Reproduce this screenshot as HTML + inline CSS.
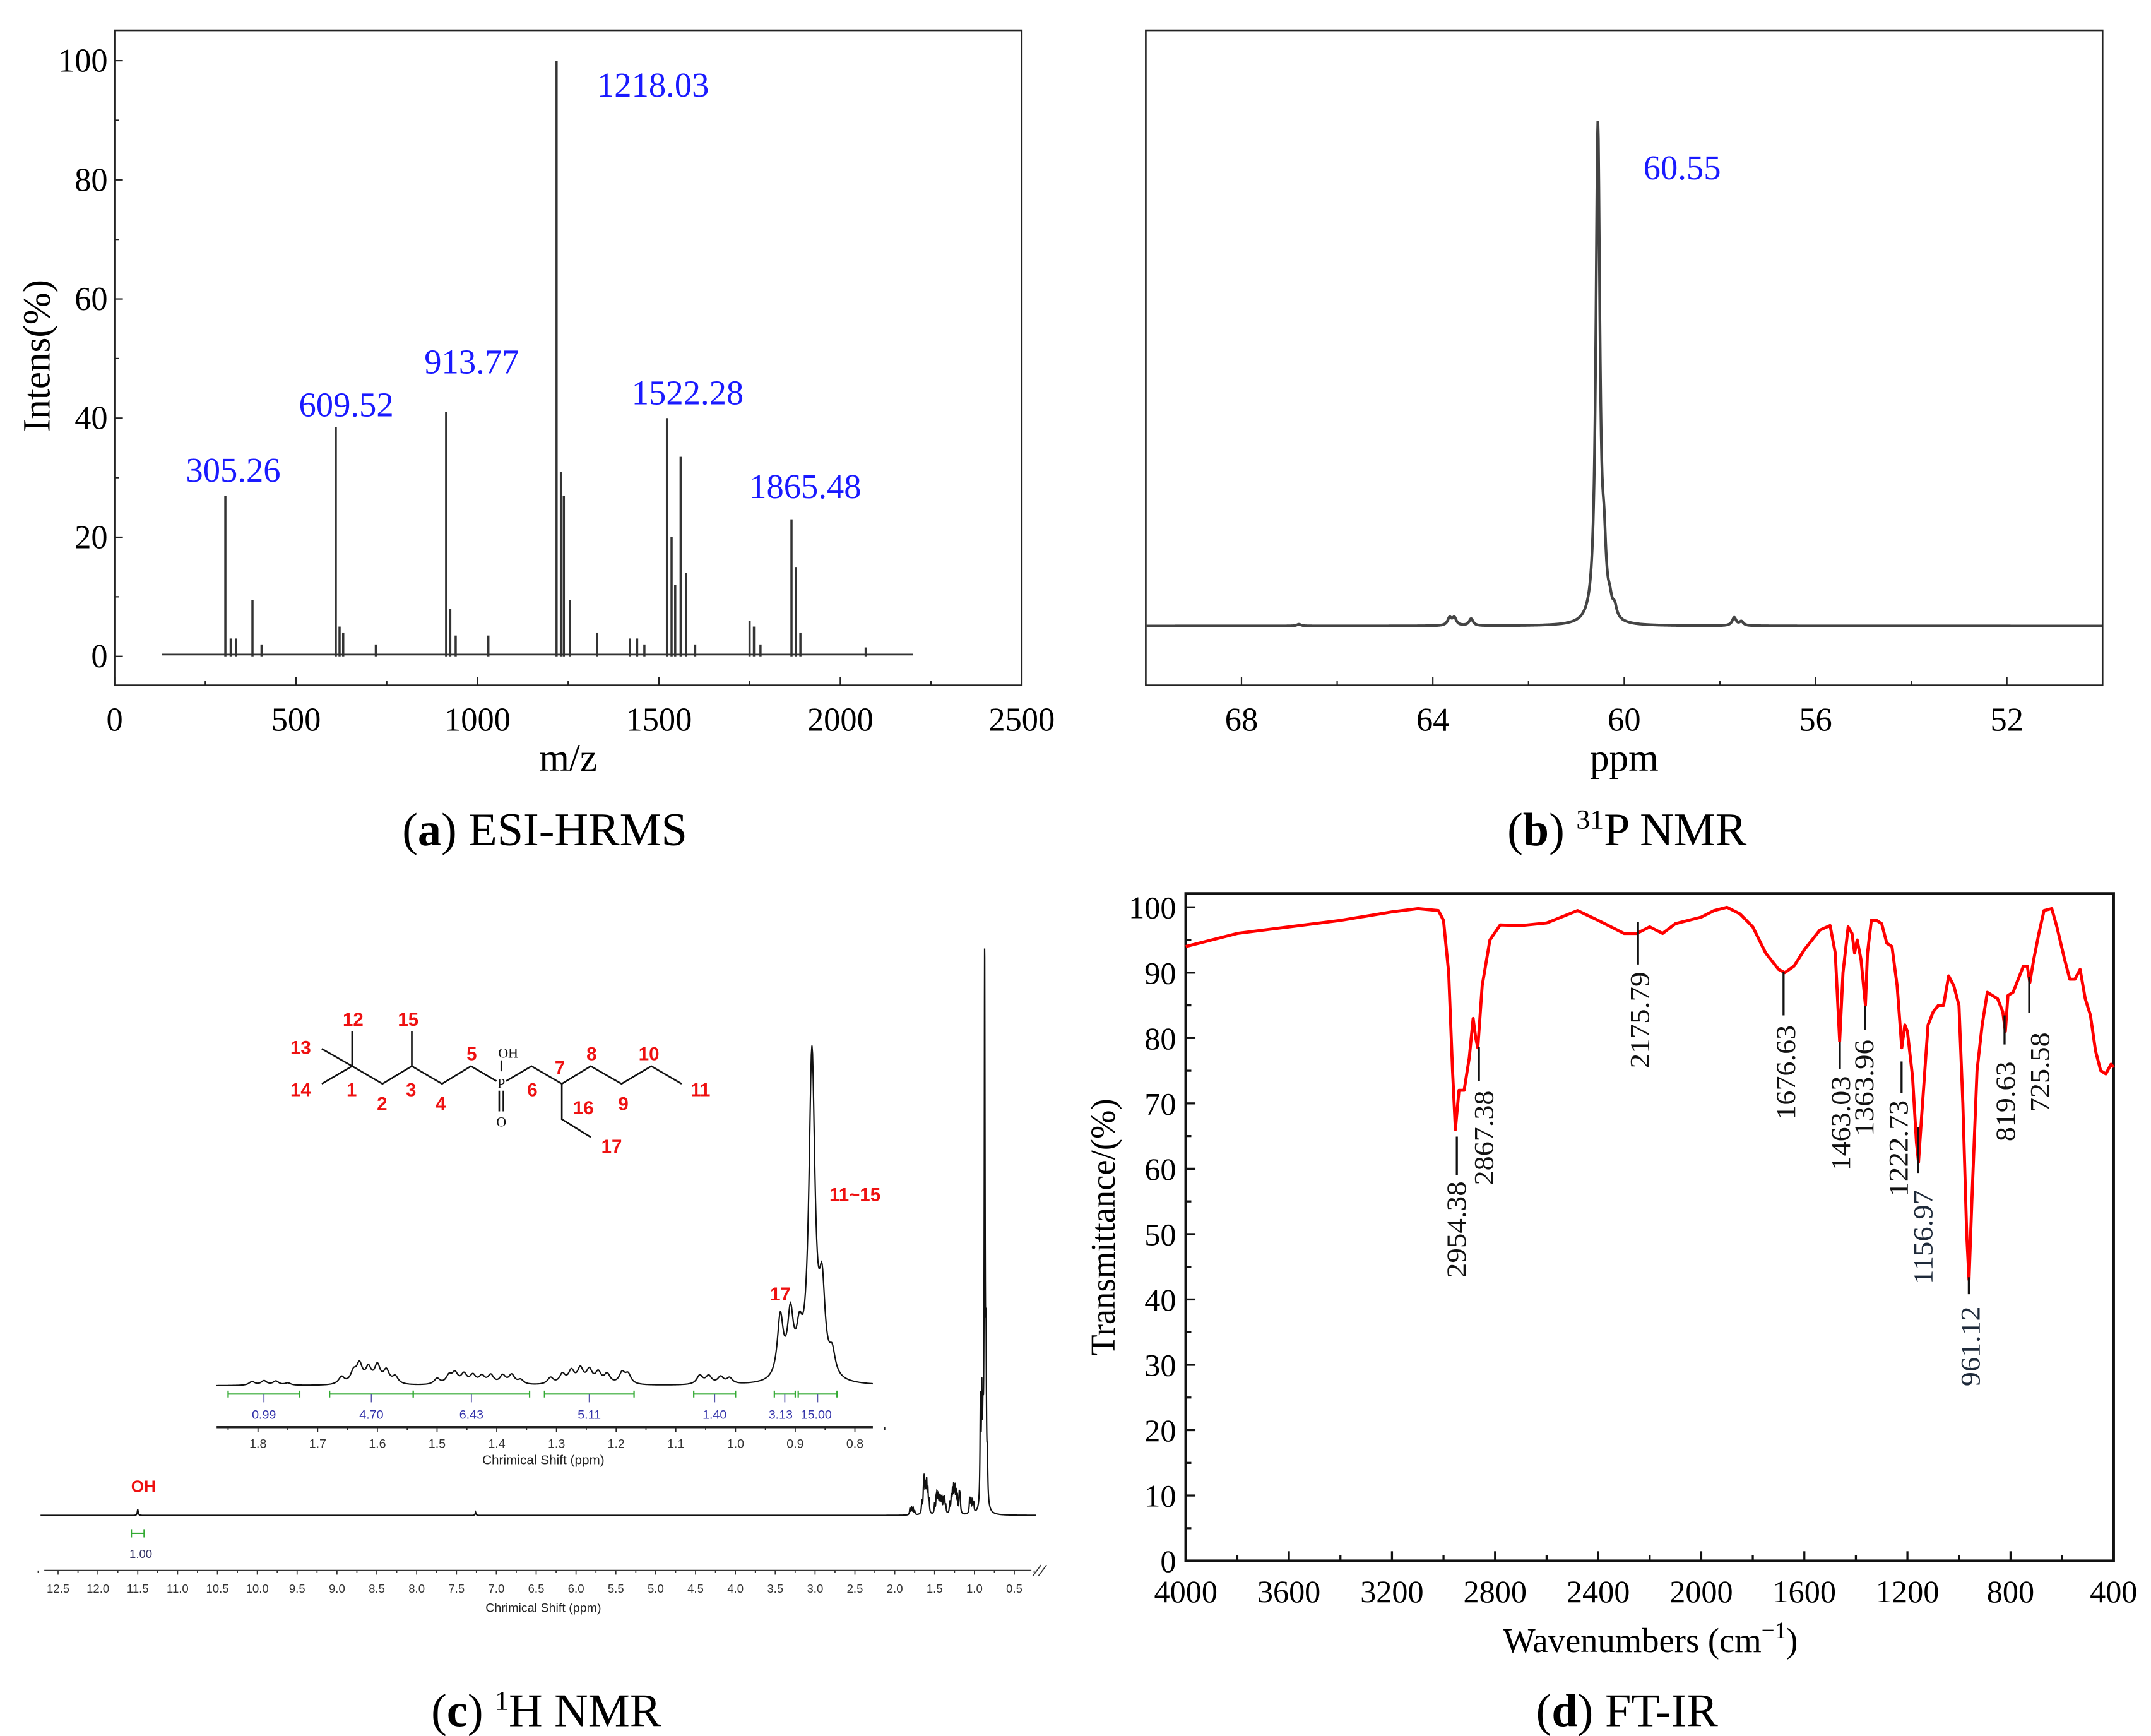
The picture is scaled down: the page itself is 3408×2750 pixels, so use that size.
<!DOCTYPE html>
<html><head><meta charset="utf-8"><title>Characterization spectra</title>
<style>
html,body{margin:0;padding:0;background:#fff;}
svg{display:block;}
.serif{font-family:"Liberation Serif",serif;}
.sans{font-family:"Liberation Sans",sans-serif;}
</style></head>
<body>
<svg id="fig" xmlns="http://www.w3.org/2000/svg" width="3408" height="2750" viewBox="0 0 1560 1259">
  <rect x="0" y="0" width="1560" height="1259" fill="#fff"/>
  <g id="pa">
    <rect x="83" y="22" width="658" height="475" fill="none" stroke="#222" stroke-width="1.2"/>
    <text class="serif" font-family="Liberation Serif, serif" x="27" y="258" font-size="28" text-anchor="middle" transform="rotate(-90 27 258)" dominant-baseline="central">Intens(%)</text>
    <text class="serif" font-family="Liberation Serif, serif" x="412" y="559" font-size="28" text-anchor="middle">m/z</text>
    <text class="serif" font-family="Liberation Serif, serif" x="395" y="613" font-size="34" text-anchor="middle">(<tspan font-weight="bold">a</tspan>) ESI-HRMS</text>
  </g>
  <g id="pb">
    <rect x="831" y="22" width="694" height="475" fill="none" stroke="#222" stroke-width="1.2"/>
    <text class="serif" font-family="Liberation Serif, serif" x="1178" y="559" font-size="28" text-anchor="middle">ppm</text>
    <text class="serif" font-family="Liberation Serif, serif" x="1180" y="613" font-size="34" text-anchor="middle">(<tspan font-weight="bold">b</tspan>) <tspan font-size="20" dy="-12">31</tspan><tspan dy="12">P NMR</tspan></text>
  </g>
  <g id="pc">
    <text class="serif" font-family="Liberation Serif, serif" x="396" y="1252" font-size="34" text-anchor="middle">(<tspan font-weight="bold">c</tspan>) <tspan font-size="20" dy="-12">1</tspan><tspan dy="12">H NMR</tspan></text>
  </g>
  <g id="pd">
    <rect x="860" y="648" width="673" height="484" fill="none" stroke="#111" stroke-width="2"/>
    <text class="serif" font-family="Liberation Serif, serif" x="800" y="890" font-size="25" text-anchor="middle" transform="rotate(-90 800 890)" dominant-baseline="central">Transmittance/(%)</text>
    <text class="serif" font-family="Liberation Serif, serif" x="1197" y="1198" font-size="25" text-anchor="middle">Wavenumbers (cm<tspan font-size="17" dy="-10">−1</tspan><tspan dy="10">)</tspan></text>
    <text class="serif" font-family="Liberation Serif, serif" x="1180" y="1252" font-size="34" text-anchor="middle">(<tspan font-weight="bold">d</tspan>) FT-IR</text>
  </g>
</svg>
<script>
// ---------- Panel a data ----------
const msMz = [305.26,320,335,380,405,609.52,620,630,720,913.77,925,940,1030,1218.03,1230,1238,1255,1330,1420,1440,1460,1522.28,1535,1545,1560,1575,1600,1750,1762,1780,1865.48,1878,1890,2070];
const msInt = [27,3,3,9.5,2,38.5,5,4,2,41,8,3.5,3.5,100,31,27,9.5,4,3,3,2,40,20,12,33.5,14,2,6,5,2,23,15,4,1.5];
const msLabels = ["305.26","609.52","913.77","1218.03","1522.28","1865.48"];
const msLabelMz = [305.26,609.52,913.77,1218.03,1522.28,1865.48];
const msLabelInt = [27,38.5,41,100,40,23];
const msXTicks = [0,500,1000,1500,2000,2500];
const msYTicks = [0,20,40,60,80,100];

// ---------- Panel b data ----------
const pPpm = [60.55,60.42,60.3,60.2,63.65,63.55,63.2,57.7,57.55,66.8];
const pHeight = [86,9,2,1.8,1.3,1.3,1.2,1.4,0.7,0.3];
const pTicks = [68,64,60,56,52];
const pLabel = "60.55";

// ---------- Panel c data ----------
const hPpm = [11.5,7.26,1.81,1.79,1.77,1.75,1.66,1.64,1.63,1.615,1.60,1.585,1.57,1.50,1.48,1.47,1.455,1.44,1.425,1.41,1.39,1.375,1.36,1.31,1.29,1.275,1.26,1.245,1.23,1.215,1.19,1.18,1.06,1.045,1.025,1.01,0.925,0.908,0.893,0.872,0.855,0.838];
const hRel = [1,0.5,1,1.2,1.1,0.6,2,3,5,4,4.8,3.5,2,1.6,2.2,2.8,2.6,2.3,2.1,2.4,2.3,2.5,1.2,1.8,2.6,3.4,4,3.6,3,2.6,3,2.6,2.4,2.2,1.9,1.6,16.5,16.5,10,88,22,6];
const intLabels = ["0.99","4.70","6.43","5.11","1.40","3.13","15.00"];
const intFrom = [1.85,1.68,1.54,1.32,1.07,0.935,0.895];
const intTo = [1.73,1.54,1.345,1.17,1.0,0.9,0.83];
const mainTicks = ["12.5","12.0","11.5","11.0","10.5","10.0","9.5","9.0","8.5","8.0","7.5","7.0","6.5","6.0","5.5","5.0","4.5","4.0","3.5","3.0","2.5","2.0","1.5","1.0","0.5"];
const insetTicks = ["1.8","1.7","1.6","1.5","1.4","1.3","1.2","1.1","1.0","0.9","0.8"];

// ---------- Panel d data ----------
const irWn = [4000,3800,3600,3400,3200,3100,3020,3000,2980,2965,2954,2940,2920,2900,2885,2875,2867,2850,2820,2780,2700,2600,2480,2400,2300,2250,2200,2175,2150,2100,2000,1950,1900,1850,1800,1750,1700,1676,1640,1600,1540,1500,1480,1463,1450,1430,1415,1405,1395,1380,1363,1355,1340,1320,1300,1280,1260,1240,1222,1210,1200,1180,1165,1157,1145,1120,1100,1080,1060,1040,1020,1000,985,970,961,950,930,910,890,870,850,830,820,810,790,770,750,735,725,710,690,670,640,620,590,570,550,530,510,490,470,450,430,410,400];
const irT = [94,96,97,98,99.3,99.8,99.5,98,90,75,66,72,72,77,83,80,78.5,88,95,97.3,97.2,97.6,99.5,98,96,96,97,96.5,96,97.5,98.5,99.5,100,99,97,93,90.5,90,91,93.5,96.5,97.2,93,79.5,90,97,96,93,95,92,85,93,98,98,97.5,94.5,94,88,78.5,82,81,74,64,61,68,82,84,85,85,89.5,88,85,70,50,43,55,75,82,87,86.5,86,84,81,86.5,87,89,91,91,88.5,92,96,99.5,99.8,97,92,89,89,90.5,86,83.5,78,75,74.5,76,75.5];
const irLabels = ["2954.38","2867.38","2175.79","1676.63","1463.03","1363.96","1222.73","1156.97","961.12","819.63","725.58"];
const irXTicks = [4000,3600,3200,2800,2400,2000,1600,1200,800,400];
const irYTicks = [0,10,20,30,40,50,60,70,80,90,100];

const NS = 'http://www.w3.org/2000/svg';
function mk(tag, attrs, parent){
  const e = document.createElementNS(NS, tag);
  for (const k in attrs) e.setAttribute(k, attrs[k]);
  if (parent) parent.appendChild(e);
  return e;
}
const SERIF = 'Liberation Serif, serif';
const SANS = 'Liberation Sans, sans-serif';
function txt(parent, x, y, s, size, extra){
  const a = Object.assign({x:x, y:y, 'font-size':size}, extra||{});
  const e = mk('text', a, parent);
  e.textContent = s;
  return e;
}
let el;

// ================= Panel a =================
const pa = document.getElementById('pa');
const xa = m => 83 + m*658/2500;
const ya = v => 476 - v*4.32;
const msLabDx = [5.7,7.6,18.5,70,15,10];
const msLabDy = [-10,-7.7,-28,26,-10,-15.5];
el = mk('line', {x1:xa(130), y1:ya(0.3), x2:xa(2200), y2:ya(0.3), stroke:'#333', 'stroke-width':1.3}, pa);


for (let i=0;i<msMz.length;i++){
  el = mk('line', {x1:xa(msMz[i]), y1:ya(0), x2:xa(msMz[i]), y2:ya(msInt[i]), stroke:'#333', 'stroke-width':1.6}, pa);
  
  
}
for (let i=0;i<msLabels.length;i++){
  el = txt(pa, xa(msLabelMz[i]) + msLabDx[i], ya(msLabelInt[i]) + msLabDy[i], msLabels[i], 25, {'text-anchor':'middle', fill:'#1a1aff', 'font-family':SERIF});
  
  
}
for (let v=0; v<=2500; v+=250){
  const big = v%500===0;
  el = mk('line', {x1:xa(v), y1:497, x2:xa(v), y2:497-(big?6:3), stroke:'#222', 'stroke-width':1}, pa);
  
  
}
for (const v of msXTicks){
  el = txt(pa, xa(v), 530, String(v), 24, {'text-anchor':'middle', 'font-family':SERIF});
  
  
}
for (let v=0; v<=100; v+=10){
  const big = v%20===0;
  el = mk('line', {x1:83, y1:ya(v), x2:83+(big?6:3), y2:ya(v), stroke:'#222', 'stroke-width':1}, pa);
  
  
}
for (const v of msYTicks){
  el = txt(pa, 78, ya(v)+8, String(v), 24, {'text-anchor':'end', 'font-family':SERIF});
  
  
}

// ================= Panel b =================
const pb = document.getElementById('pb');
const xb = p => 831 + (70-p)*694/20;
const yb = h => 454 - h*4.2;
function lor(arrP, arrH, p, w){
  let s=0;
  for (let i=0;i<arrP.length;i++){ const d=p-arrP[i]; s += arrH[i]*w*w/(d*d+w*w); }
  return s;
}
let dB = '';
for (let p=70; p>=50; p-=0.01){
  const v = Math.min(lor(pPpm,pHeight,p,0.05), 95);
  dB += (dB?'L':'M') + xb(p).toFixed(2) + ' ' + yb(v).toFixed(2);
}
el = mk('path', {d:dB, fill:'none', stroke:'#444', 'stroke-width':2}, pb);


el = txt(pb, 1220, 130, pLabel, 25, {'text-anchor':'middle', fill:'#1a1aff', 'font-family':SERIF});


for (let v=70; v>=50; v-=2){
  const big = v%4===0;
  el = mk('line', {x1:xb(v), y1:497, x2:xb(v), y2:497-(big?6:3), stroke:'#222', 'stroke-width':1}, pb);
  
  
}
for (const v of pTicks){
  el = txt(pb, xb(v), 530, String(v), 24, {'text-anchor':'middle', 'font-family':SERIF});
  
  
}

// ================= Panel c =================
const pc = document.getElementById('pc');
const xc = p => 42 + (12.5-p)*57.8;
const yc = r => 1099 - r*4.5;
let dC = '';
for (let p=12.72; p>=0.22; ){
  const v = lor(hPpm,hRel,p,0.006);
  dC += (dC?'L':'M') + xc(p).toFixed(2) + ' ' + yc(v).toFixed(2);
  p -= (p<2.0 && p>0.7) ? 0.0015 : 0.01;
}
el = mk('path', {d:dC, fill:'none', stroke:'#111', 'stroke-width':1}, pc);


el = mk('line', {x1:32, y1:1139, x2:748, y2:1139, stroke:'#333', 'stroke-width':1}, pc);


for (let i=0;i<=50;i++){
  const p = 12.75 - i*0.25;
  el = mk('line', {x1:xc(p), y1:1139, x2:xc(p), y2:1139+(i%2===1?3:1.5), stroke:'#333', 'stroke-width':0.8}, pc);
  
  
}
for (const s of mainTicks){
  el = txt(pc, xc(parseFloat(s)), 1155, s, 8.5, {'text-anchor':'middle', 'font-family':SANS, fill:'#333'});
  
  
}
el = txt(pc, 394, 1169, 'Chrimical Shift (ppm)', 9, {'text-anchor':'middle', 'font-family':SANS, fill:'#222'});


el = mk('path', {d:'M749 1143 L755 1135 M753 1143 L759 1135', stroke:'#333', 'stroke-width':0.8, fill:'none'}, pc);


el = mk('path', {d:'M'+xc(11.58)+' 1112 L'+xc(11.42)+' 1112 M'+xc(11.58)+' 1109 L'+xc(11.58)+' 1115 M'+xc(11.42)+' 1109 L'+xc(11.42)+' 1115', stroke:'#3a3', 'stroke-width':1, fill:'none'}, pc);


el = txt(pc, 102, 1130, '1.00', 8.5, {'text-anchor':'middle', 'font-family':SANS, fill:'#336'});


el = txt(pc, 104, 1082, 'OH', 12, {'text-anchor':'middle', 'font-family':SANS, fill:'#e11', 'font-weight':'bold'});



const xi = p => 187 + (1.8-p)*433;
const yi = r => 1005 - r*2.68;
let dI = '';
for (let p=1.87; p>=0.77; p-=0.001){
  const v = lor(hPpm,hRel,p,0.006);
  dI += (dI?'L':'M') + xi(p).toFixed(2) + ' ' + yi(v).toFixed(2);
}
el = mk('path', {d:dI, fill:'none', stroke:'#111', 'stroke-width':1}, pc);


for (let i=0;i<intLabels.length;i++){
  const a = xi(intFrom[i]), b = xi(intTo[i]), m = (a+b)/2;
  el = mk('path', {d:'M'+a+' 1011 L'+b+' 1011 M'+a+' 1008.5 L'+a+' 1013.5 M'+b+' 1008.5 L'+b+' 1013.5', stroke:'#3a3', 'stroke-width':1, fill:'none'}, pc);
  
  
  el = mk('line', {x1:m, y1:1011, x2:m, y2:1017, stroke:'#55a', 'stroke-width':0.8}, pc);
  
  
  el = txt(pc, m + (i===5?-3:(i===6?-1:0)), 1029, intLabels[i], 9, {'text-anchor':'middle', 'font-family':SANS, fill:'#33a'});
  
  
}
el = mk('line', {x1:157, y1:1035, x2:633, y2:1035, stroke:'#222', 'stroke-width':1.6}, pc);


for (let i=0;i<=22;i++){
  const p = 1.85 - i*0.05;
  el = mk('line', {x1:xi(p), y1:1035, x2:xi(p), y2:1035+(i%2===1?3.5:2), stroke:'#222', 'stroke-width':0.8}, pc);
  
  
}
for (const s of insetTicks){
  el = txt(pc, xi(parseFloat(s)), 1050, s, 9, {'text-anchor':'middle', 'font-family':SANS, fill:'#333'});
  
  
}
el = txt(pc, 394, 1062, 'Chrimical Shift (ppm)', 9.5, {'text-anchor':'middle', 'font-family':SANS, fill:'#222'});



const bonds = 'M233.3 760.6 L255.3 773.2 L233.3 786 M255.3 748 L255.3 773.2 L277.3 786 L298.6 773.2 L298.6 748 M298.6 773.2 L320.5 786 L341.5 773.2 L360 784 M367 784 L385.4 773.2 L407.4 786 L428.4 773.2 L450.7 786 L472.3 773.2 L494.3 786 M407.4 786 L407.4 811.7 L428.4 824.7 M363.5 777 L363.5 769 M362 791 L362 806 M365 791 L365 806';
el = mk('path', {d:bonds, stroke:'#111', 'stroke-width':1.2, fill:'none'}, pc);


el = txt(pc, 363.5, 789, 'P', 10, {'text-anchor':'middle', 'font-family':SERIF, fill:'#111'});


el = txt(pc, 368.5, 767, 'OH', 10, {'text-anchor':'middle', 'font-family':SERIF, fill:'#111'});


el = txt(pc, 363.5, 817, 'O', 10, {'text-anchor':'middle', 'font-family':SERIF, fill:'#111'});


const atomNums = ['13','12','15','14','1','2','3','4','5','6','7','8','10','11','16','9','17'];
const atomX = [218,256,296,218,255,277,298,319.5,342,386,406,429,470.6,508,423,452,443.5];
const atomY = [759.4,739,739,790,790,800,790,800,764,790,774,764,764,790,803,800,831];
for (let i=0;i<atomNums.length;i++){
  el = txt(pc, atomX[i], atomY[i]+5, atomNums[i], 13.5, {'text-anchor':'middle', 'font-family':SANS, fill:'#e11', 'font-weight':'bold'});
  
  
}
el = txt(pc, 566, 943, '17', 13.5, {'text-anchor':'middle', 'font-family':SANS, fill:'#e11', 'font-weight':'bold'});


el = txt(pc, 620, 871, '11~15', 13.5, {'text-anchor':'middle', 'font-family':SANS, fill:'#e11', 'font-weight':'bold'});



// ================= Panel d =================
const pd = document.getElementById('pd');
const xd = w => 860 + (4000-w)*673/3600;
const yd = t => 1132 - t*4.74;
let dD = '';
for (let i=0;i<irWn.length;i++){
  dD += (i?'L':'M') + xd(irWn[i]).toFixed(2) + ' ' + yd(irT[i]).toFixed(2);
}
el = mk('path', {d:dD, fill:'none', stroke:'#f00', 'stroke-width':2.2, 'stroke-linejoin':'round'}, pd);


for (let v=4000; v>=400; v-=200){
  const big = v%400===0;
  el = mk('line', {x1:xd(v), y1:1132, x2:xd(v), y2:1132-(big?7:4), stroke:'#111', 'stroke-width':1.5}, pd);
  
  
}
for (const v of irXTicks){
  el = txt(pd, xd(v), 1162, String(v), 23, {'text-anchor':'middle', 'font-family':SERIF});
  
  
}
for (let v=0; v<=100; v+=5){
  const big = v%10===0;
  el = mk('line', {x1:860, y1:yd(v), x2:860+(big?7:4), y2:yd(v), stroke:'#111', 'stroke-width':1.5}, pd);
  
  
}
for (const v of irYTicks){
  el = txt(pd, 853, yd(v)+8, String(v), 23, {'text-anchor':'end', 'font-family':SERIF});
  
  
}
const annX = [1056.6,1072.6,1188,1293.6,1334.4,1352.8,1379.2,1391.1,1428,1453.9,1471.8];
const annY1 = [824.3,759.3,668.9,704.8,755.7,729.4,769.8,817.3,926.3,736.4,708.3];
const annY2 = [852.4,783.9,699.5,736.4,775.1,747,792.7,850.7,938.6,757.5,734.7];
const annTX = [1056.6,1076.5,1189.5,1295.6,1335.4,1352.3,1377.2,1395.1,1429.5,1454.9,1479.8];
const annTY = [856.7,790.9,704.8,743.4,780.4,754,797.9,863,947.4,769.8,748.7];
const annLen = [70,68.6,70,68.6,68.6,70,70,68.6,58,58,58];
for (let i=0;i<irLabels.length;i++){
  el = mk('line', {x1:annX[i], y1:annY1[i], x2:annX[i], y2:annY2[i], stroke:'#111', 'stroke-width':1.5}, pd);
  
  
  const dark = (i===7||i===8);
  el = txt(pd, annTX[i], annTY[i], irLabels[i], 20, {'text-anchor':'end', 'font-family':SERIF, fill: dark?'#1e2a3a':'#111', 'dominant-baseline':'central', textLength:annLen[i], lengthAdjust:'spacingAndGlyphs', transform:'rotate(-90 '+annTX[i]+' '+annTY[i]+')'});
  
  
}
</script>
</body></html>
